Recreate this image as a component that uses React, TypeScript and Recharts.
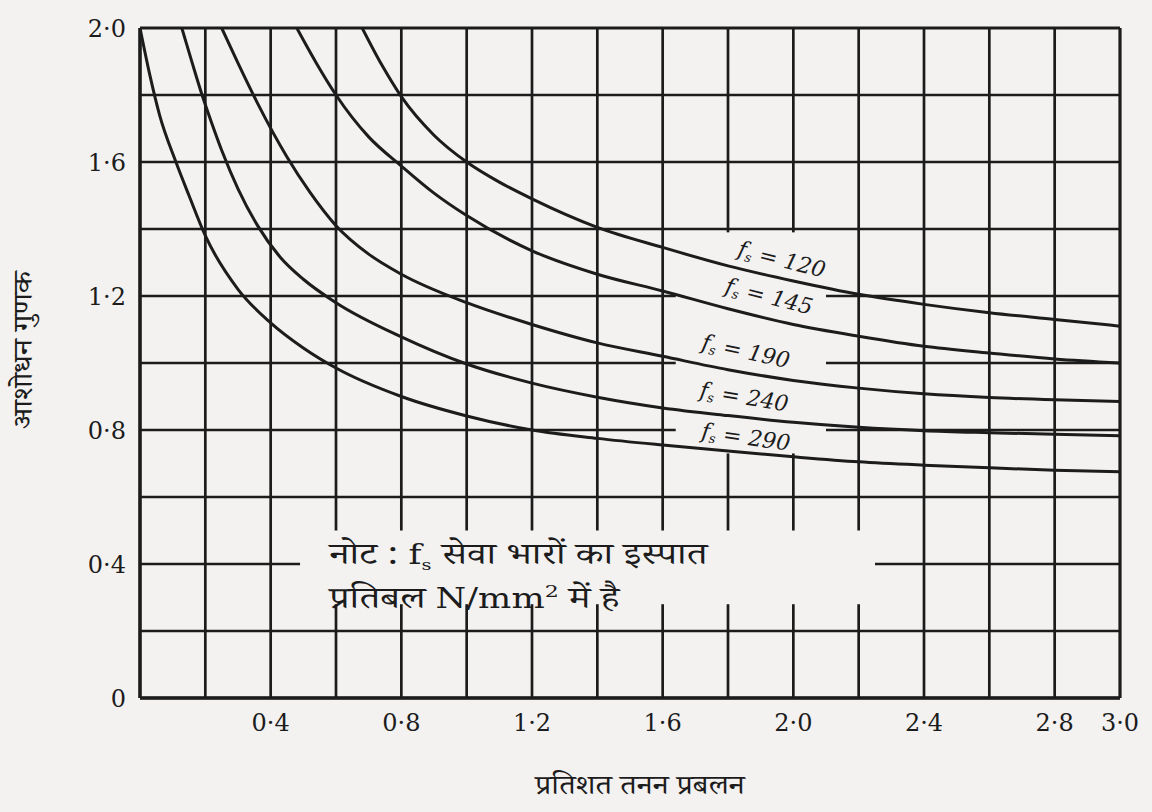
import React from "react";
import { LineChart, Line, XAxis, YAxis, ReferenceLine, ReferenceDot } from "recharts";

// fs values (N/mm²) of the five curves
const stresses = ["120", "145", "190", "240", "290"];

// percent tension reinforcement (x) and modification factor (y)
const fs120X = [0.68, 0.74, 0.8, 0.9, 1.0, 1.1, 1.2, 1.4, 1.6, 1.8, 2.0, 2.2, 2.4, 2.6, 2.8, 3.0];
const fs120Y = [2.0, 1.89, 1.795, 1.68, 1.6, 1.54, 1.49, 1.405, 1.345, 1.29, 1.245, 1.205, 1.175, 1.15, 1.13, 1.11];

const fs145X = [0.48, 0.54, 0.6, 0.7, 0.8, 0.9, 1.0, 1.2, 1.4, 1.6, 1.8, 2.0, 2.2, 2.4, 2.6, 2.8, 3.0];
const fs145Y = [2.0, 1.895, 1.8, 1.675, 1.588, 1.507, 1.44, 1.335, 1.265, 1.215, 1.162, 1.115, 1.08, 1.05, 1.03, 1.012, 1.0];

const fs190X = [0.25, 0.3, 0.36, 0.45, 0.52, 0.6, 0.7, 0.8, 1.0, 1.2, 1.4, 1.6, 1.8, 2.0, 2.2, 2.4, 2.6, 2.8, 3.0];
const fs190Y = [2.0, 1.895, 1.775, 1.615, 1.51, 1.41, 1.325, 1.265, 1.18, 1.115, 1.06, 1.02, 0.98, 0.948, 0.925, 0.908, 0.897, 0.89, 0.885];

const fs240X = [0.128, 0.16, 0.19, 0.22, 0.25, 0.3, 0.36, 0.43, 0.5, 0.6, 0.8, 1.0, 1.2, 1.4, 1.6, 1.8, 2.0, 2.2, 2.4, 2.6, 2.8, 3.0];
const fs240Y = [2.0, 1.895, 1.8, 1.715, 1.635, 1.52, 1.41, 1.315, 1.25, 1.18, 1.078, 0.997, 0.94, 0.898, 0.866, 0.843, 0.823, 0.808, 0.798, 0.792, 0.787, 0.783];

const fs290X = [0, 0.03, 0.06, 0.11, 0.15, 0.2, 0.3, 0.4, 0.5, 0.6, 0.8, 1.0, 1.2, 1.4, 1.6, 1.8, 2.0, 2.2, 2.4, 2.6, 2.8, 3.0];
const fs290Y = [2.0, 1.86, 1.74, 1.6, 1.5, 1.38, 1.22, 1.12, 1.045, 0.985, 0.9, 0.842, 0.8, 0.775, 0.755, 0.737, 0.72, 0.705, 0.695, 0.687, 0.68, 0.675];

// grid every 0.2, labels only on some
const xTicks = [0, 0.2, 0.4, 0.6, 0.8, 1.0, 1.2, 1.4, 1.6, 1.8, 2.0, 2.2, 2.4, 2.6, 2.8, 3.0];
const yTicks = [0, 0.2, 0.4, 0.6, 0.8, 1.0, 1.2, 1.4, 1.6, 1.8, 2.0];
const xLabelled = [0.4, 0.8, 1.2, 1.6, 2.0, 2.4, 2.8, 3.0];
const yLabelled = [0, 0.4, 0.8, 1.2, 1.6, 2.0];

// where each curve label sits, and its tilt
const labelX = [1.965, 1.926, 1.855, 1.85, 1.855];
const labelY = [1.31, 1.2, 1.036, 0.9, 0.78];
const labelAngle = [14, 14, 12, 9, 8];

const allX = [fs120X, fs145X, fs190X, fs240X, fs290X];
const allY = [fs120Y, fs145Y, fs190Y, fs240Y, fs290Y];
const series = stresses.map((fs, i) => ({
  fs,
  data: allX[i].map((x, j) => ({ x, y: allY[i][j] })),
}));

// blank patches in the printed grid (behind the curve labels and the note)
const gaps = [
  { x1: 1.64, x2: 2.1, y1: 0.73, y2: 1.39 },
  { x1: 0.49, x2: 2.25, y1: 0.28, y2: 0.5 },
];

const INK = "#1c1c1c";
const PAPER = "#f3f2f1";
const SERIF = "'DejaVu Serif', 'Liberation Serif', serif";
const DEVA = "'Noto Serif Devanagari', 'Noto Sans Devanagari', 'Lohit Devanagari', 'Noto Sans', sans-serif";

const fmt = (v: number) => (v === 0 ? "0" : v.toFixed(1).replace(".", "·"));

function pieces(lo: number, hi: number, cuts: [number, number][]) {
  const out: [number, number][] = [];
  let start = lo;
  cuts
    .sort((a, b) => a[0] - b[0])
    .forEach(([a, b]) => {
      if (a > start) out.push([start, a]);
      start = Math.max(start, b);
    });
  if (start < hi) out.push([start, hi]);
  return out;
}

function FsLabel({ cx, cy, fs, angle }: any) {
  if (cx == null || cy == null) return null;
  return (
    <text
      x={cx}
      y={cy}
      transform={`rotate(${angle} ${cx} ${cy})`}
      textAnchor="middle"
      dominantBaseline="central"
      fontFamily={SERIF}
      fontStyle="italic"
      fontSize={22}
      fill={INK}
    >
      f
      <tspan fontSize={13} dy={6}>s</tspan>
      <tspan dy={-6}>{` = ${fs}`}</tspan>
    </text>
  );
}

function Note({ cx, cy }: any) {
  if (cx == null || cy == null) return null;
  // the printed note is set in a wide face; stretch it to the same measure
  return (
    <g>
      <g transform={`translate(${cx} ${cy}) scale(1.3 1)`}>
        <text x={0} y={0} fontFamily={DEVA} fontSize={30} fill={INK}>
          नोट :{" "}
          <tspan fontFamily={SERIF} fontSize={27}>f</tspan>
          <tspan fontFamily={SERIF} fontSize={15} dy={6}>s</tspan>
          <tspan dy={-6}> सेवा भारों का इस्पात</tspan>
        </text>
      </g>
      <g transform={`translate(${cx} ${cy + 44}) scale(1.3 1)`}>
        <text x={0} y={0} fontFamily={DEVA} fontSize={30} fill={INK}>
          प्रतिबल{" "}
          <tspan fontFamily={SERIF} fontSize={27}>N/mm</tspan>
          <tspan fontFamily={SERIF} fontSize={17} dy={-11}>2</tspan>
          <tspan dy={11}> में है</tspan>
        </text>
      </g>
    </g>
  );
}

export default function App() {
  const gridLines: React.ReactNode[] = [];
  xTicks.forEach((v) => {
    const cuts = gaps.filter((g) => v > g.x1 && v < g.x2).map((g) => [g.y1, g.y2] as [number, number]);
    pieces(0, 2, cuts).forEach(([a, b], k) =>
      gridLines.push(
        <ReferenceLine
          key={`vx${v}-${k}`}
          segment={[{ x: v, y: a }, { x: v, y: b }]}
          stroke={INK}
          strokeWidth={v === 3 ? 3.2 : 2.7}
          ifOverflow="visible"
        />
      )
    );
  });
  yTicks.forEach((v) => {
    const cuts = gaps.filter((g) => v > g.y1 && v < g.y2).map((g) => [g.x1, g.x2] as [number, number]);
    pieces(0, 3, cuts).forEach(([a, b], k) =>
      gridLines.push(
        <ReferenceLine
          key={`hy${v}-${k}`}
          segment={[{ x: a, y: v }, { x: b, y: v }]}
          stroke={INK}
          strokeWidth={v === 2 ? 3.2 : 2.7}
          ifOverflow="visible"
        />
      )
    );
  });

  return (
    <div style={{ position: "relative", width: 1152, height: 812, background: PAPER }}>
      <style>{`body{margin:0;background:${PAPER};overflow:hidden}`}</style>
      <LineChart width={1152} height={812} margin={{ top: 28, right: 32, bottom: 74, left: 0 }}>
        <XAxis
          type="number"
          dataKey="x"
          domain={[0, 3]}
          ticks={xTicks}
          interval={0}
          allowDataOverflow
          tickFormatter={(v: number) => (xLabelled.includes(v) ? fmt(v) : "")}
          tickLine={false}
          axisLine={{ stroke: INK, strokeWidth: 3.4 }}
          tickMargin={10}
          height={40}
          tick={{ fontFamily: SERIF, fontSize: 24, fill: INK }}
        />
        <YAxis
          type="number"
          domain={[0, 2]}
          ticks={yTicks}
          interval={0}
          allowDataOverflow
          tickFormatter={(v: number) => (yLabelled.includes(v) ? fmt(v) : "")}
          tickLine={false}
          axisLine={{ stroke: INK, strokeWidth: 3.4 }}
          tickMargin={8}
          width={140}
          tick={{ fontFamily: SERIF, fontSize: 24, fill: INK }}
        />
        {gridLines}
        {series.map((s) => (
          <Line
            key={s.fs}
            data={s.data}
            dataKey="y"
            type="monotone"
            stroke={INK}
            strokeWidth={3}
            dot={false}
            activeDot={false}
            isAnimationActive={false}
          />
        ))}
        {stresses.map((fs, i) => (
          <ReferenceDot
            key={`lab${fs}`}
            x={labelX[i]}
            y={labelY[i]}
            r={1}
            ifOverflow="visible"
            shape={(p: any) => <FsLabel cx={p.cx} cy={p.cy} fs={fs} angle={labelAngle[i]} />}
          />
        ))}
        <ReferenceDot
          x={0.58}
          y={0.4}
          r={1}
          ifOverflow="visible"
          shape={(p: any) => <Note cx={p.cx} cy={p.cy} />}
        />
      </LineChart>
      <div
        style={{
          position: "absolute",
          left: 28,
          top: 350,
          transform: "translate(-50%, -50%) rotate(-90deg) scaleX(1.15)",
          whiteSpace: "nowrap",
          fontFamily: DEVA,
          fontSize: 27,
          color: INK,
        }}
      >
        आशोधन गुणक
      </div>
      <div
        style={{
          position: "absolute",
          left: 640,
          top: 790,
          transform: "translate(-50%, -50%) scaleX(1.15)",
          whiteSpace: "nowrap",
          fontFamily: DEVA,
          fontSize: 27,
          color: INK,
        }}
      >
        प्रतिशत तनन प्रबलन
      </div>
    </div>
  );
}
